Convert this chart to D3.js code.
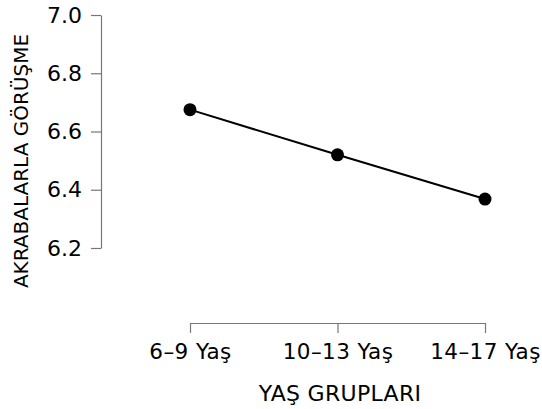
<!DOCTYPE html>
<html>
<head>
<meta charset="utf-8">
<script src="https://cdn.jsdelivr.net/npm/d3@7"></script>
<style>
  body { margin: 0; background: #fff; }
  text { font-family: "DejaVu Sans", sans-serif; fill: #000; }
</style>
</head>
<body>
<div id="app"></div>
<script>
  'use strict'
  const groups = ['6–9 Yaş', '10–13 Yaş', '14–17 Yaş']
  const values = [6.675, 6.52, 6.368]
  const yTicks = [6.2, 6.4, 6.6, 6.8, 7.0]

  const w = 542
  const h = 409

  const svg = d3.select('#app')
    .append('svg')
    .attr('width', w)
    .attr('height', h)

  const x = d3.scalePoint()
    .domain(groups)
    .range([190, 485])

  const y = d3.scaleLinear()
    .domain([6.2, 7.0])
    .range([248, 15])

  const yAxis = svg.append('g')
    .attr('transform', 'translate(101,0)')
    .call(d3.axisLeft(y).tickValues(yTicks).tickFormat(d3.format('.1f')).tickSize(10).tickSizeOuter(0).tickPadding(9))
  yAxis.selectAll('text').style('font-size', '22px')

  const xAxis = svg.append('g')
    .attr('transform', 'translate(0,323)')
    .call(d3.axisBottom(x).tickSize(10).tickSizeOuter(0).tickPadding(11))
  xAxis.selectAll('text')
    .style('font-size', '21.5px')
    .style('letter-spacing', '0.4px')

  svg.selectAll('.domain, .tick line')
    .attr('stroke', '#777')
    .attr('stroke-width', 1.2)

  svg.append('text')
    .attr('x', 340)
    .attr('y', 401)
    .attr('text-anchor', 'middle')
    .style('font-size', '22px')
    .style('letter-spacing', '0.3px')
    .text('YAŞ GRUPLARI')

  svg.append('text')
    .attr('transform', 'translate(28,161) rotate(-90)')
    .attr('text-anchor', 'middle')
    .style('font-size', '20px')
    .text('AKRABALARLA GÖRÜŞME')

  const line = d3.line()
    .x((d, i) => x(groups[i]))
    .y(d => y(d))

  svg.append('path')
    .datum(values)
    .attr('d', line)
    .attr('fill', 'none')
    .attr('stroke', '#000')
    .attr('stroke-width', 2)

  svg.selectAll('circle')
    .data(values)
    .enter().append('circle')
    .attr('cx', (d, i) => x(groups[i]))
    .attr('cy', d => y(d))
    .attr('r', 6.5)
    .attr('fill', '#000')
</script>
</body>
</html>
